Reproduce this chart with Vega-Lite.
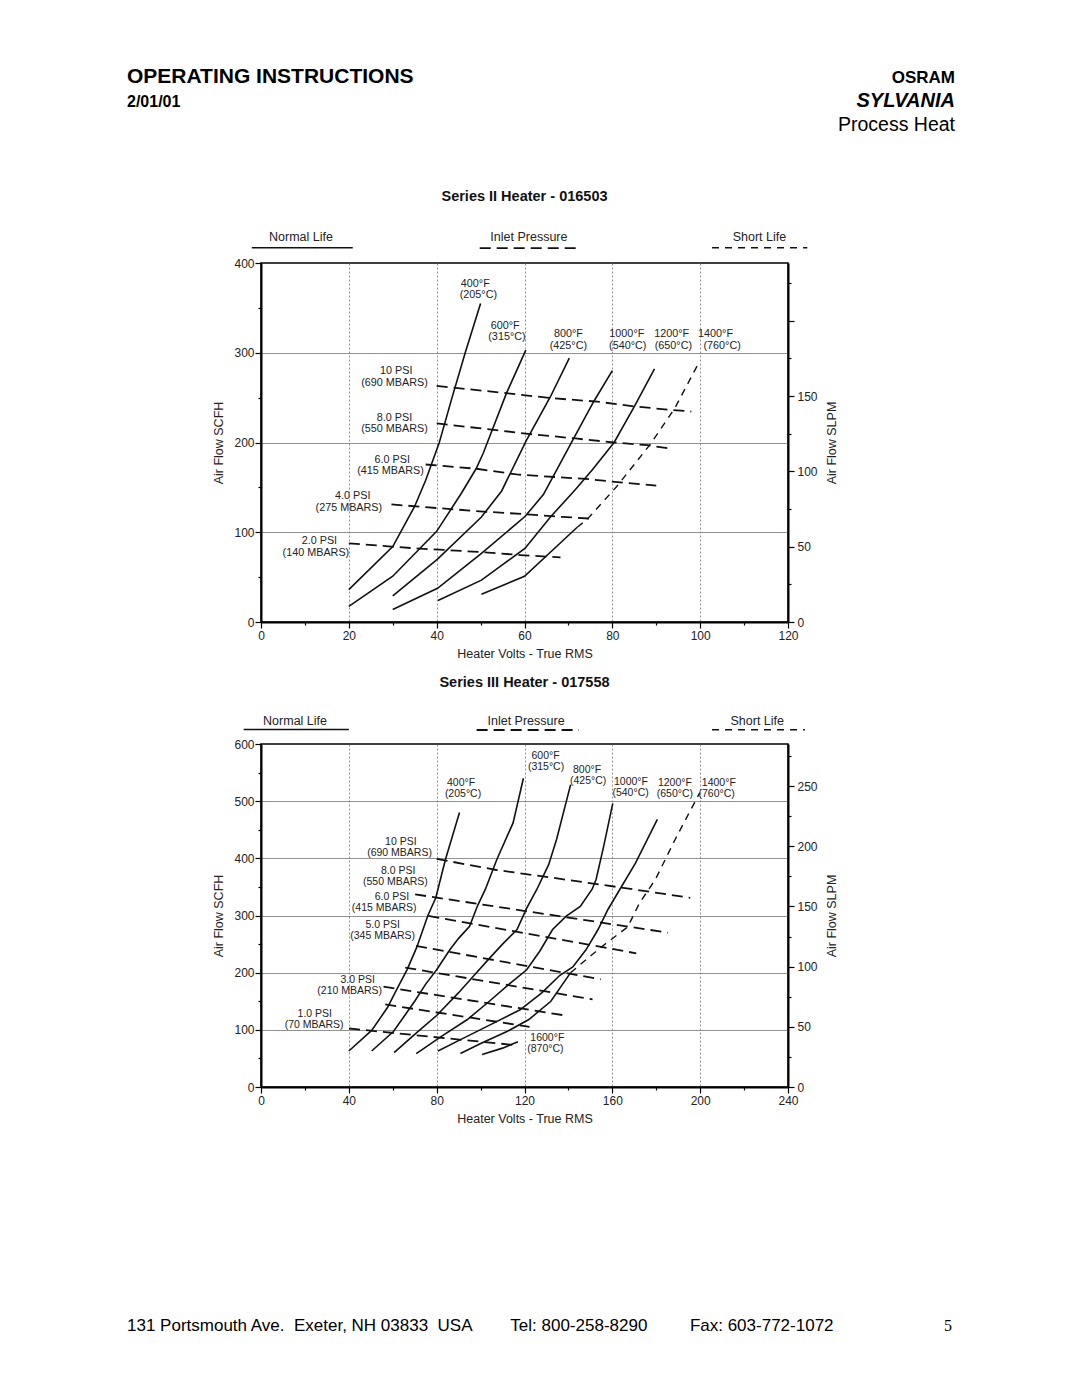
{
  "$schema": "https://vega.github.io/schema/vega-lite/v6.json",
  "padding": {"left": 127, "top": 60, "right": 5, "bottom": 5},
  "spacing": 122,
  "bounds": "flush",
  "config": {
    "font": "Liberation Sans",
    "view": {"stroke": "#000", "strokeWidth": 1.5},
    "axis": {
      "labelFont": "Liberation Sans", "labelFontSize": 12, "labelColor": "#222",
      "titleFont": "Liberation Sans", "titleFontSize": 12.5, "titleFontWeight": "normal", "titleColor": "#222",
      "domainColor": "#000", "domainWidth": 2, "tickColor": "#000", "tickWidth": 1.2,
      "gridColor": "#777", "gridWidth": 0.8
    },
    "title": {"font": "Liberation Sans", "fontSize": 14.5, "fontWeight": "bold", "color": "#111", "anchor": "middle"}
  },
  "datasets": {
    "header": [
      {"text": "OPERATING INSTRUCTIONS", "side": "left", "line": 1, "role": "doc"},
      {"text": "2/01/01", "side": "left", "line": 2, "role": "date"},
      {"text": "OSRAM", "side": "right", "line": 1, "role": "brand"},
      {"text": "SYLVANIA", "side": "right", "line": 2, "role": "brand2"},
      {"text": "Process Heat", "side": "right", "line": 3, "role": "division"}
    ],
    "footer": [
      {"text": "131 Portsmouth Ave.\u00a0\u00a0Exeter, NH 03833\u00a0\u00a0USA\u00a0\u00a0\u00a0\u00a0\u00a0\u00a0\u00a0\u00a0Tel: 800-258-8290\u00a0\u00a0\u00a0\u00a0\u00a0\u00a0\u00a0\u00a0\u00a0Fax: 603-772-1072", "side": "left", "line": 1, "role": "address"},
      {"text": "5", "side": "right", "line": 1, "role": "page"}
    ],
    "c1_lines": [
      {"series": "400F", "kind": "normal", "v": 20, "q": 36},
      {"series": "400F", "kind": "normal", "v": 30, "q": 84},
      {"series": "400F", "kind": "normal", "v": 35, "q": 129},
      {"series": "400F", "kind": "normal", "v": 37.5, "q": 158},
      {"series": "400F", "kind": "normal", "v": 40.6, "q": 200},
      {"series": "400F", "kind": "normal", "v": 43.5, "q": 250},
      {"series": "400F", "kind": "normal", "v": 46.5, "q": 300},
      {"series": "400F", "kind": "normal", "v": 50, "q": 355},
      {"series": "600F", "kind": "normal", "v": 20, "q": 17.5},
      {"series": "600F", "kind": "normal", "v": 30, "q": 51},
      {"series": "600F", "kind": "normal", "v": 40, "q": 101},
      {"series": "600F", "kind": "normal", "v": 45.7, "q": 144},
      {"series": "600F", "kind": "normal", "v": 49, "q": 171},
      {"series": "600F", "kind": "normal", "v": 50.6, "q": 188},
      {"series": "600F", "kind": "normal", "v": 55.9, "q": 255},
      {"series": "600F", "kind": "normal", "v": 60.3, "q": 303},
      {"series": "800F", "kind": "normal", "v": 30, "q": 29},
      {"series": "800F", "kind": "normal", "v": 40.2, "q": 70},
      {"series": "800F", "kind": "normal", "v": 50.2, "q": 117},
      {"series": "800F", "kind": "normal", "v": 54.8, "q": 146},
      {"series": "800F", "kind": "normal", "v": 60.4, "q": 202},
      {"series": "800F", "kind": "normal", "v": 65.9, "q": 251},
      {"series": "800F", "kind": "normal", "v": 70.2, "q": 294},
      {"series": "1000F", "kind": "normal", "v": 30, "q": 14},
      {"series": "1000F", "kind": "normal", "v": 40.2, "q": 37.5},
      {"series": "1000F", "kind": "normal", "v": 50.2, "q": 76.5},
      {"series": "1000F", "kind": "normal", "v": 60.1, "q": 117.5},
      {"series": "1000F", "kind": "normal", "v": 64.3, "q": 142},
      {"series": "1000F", "kind": "normal", "v": 71.2, "q": 204.5},
      {"series": "1000F", "kind": "normal", "v": 75.8, "q": 246},
      {"series": "1000F", "kind": "normal", "v": 80, "q": 280},
      {"series": "1200F", "kind": "normal", "v": 40.3, "q": 24},
      {"series": "1200F", "kind": "normal", "v": 50.2, "q": 46.6},
      {"series": "1200F", "kind": "normal", "v": 60.1, "q": 82},
      {"series": "1200F", "kind": "normal", "v": 66, "q": 117.5},
      {"series": "1200F", "kind": "normal", "v": 71.5, "q": 147},
      {"series": "1200F", "kind": "normal", "v": 75.5, "q": 170},
      {"series": "1200F", "kind": "normal", "v": 80.4, "q": 200},
      {"series": "1200F", "kind": "normal", "v": 85, "q": 240},
      {"series": "1200F", "kind": "normal", "v": 89.6, "q": 282},
      {"series": "1400F", "kind": "normal", "v": 50.2, "q": 31},
      {"series": "1400F", "kind": "normal", "v": 60, "q": 51},
      {"series": "1400F", "kind": "normal", "v": 72, "q": 105.6},
      {"series": "1400F short", "kind": "short", "v": 72, "q": 105.6},
      {"series": "1400F short", "kind": "short", "v": 74.2, "q": 114},
      {"series": "1400F short", "kind": "short", "v": 81, "q": 151},
      {"series": "1400F short", "kind": "short", "v": 88.8, "q": 199},
      {"series": "1400F short", "kind": "short", "v": 94.2, "q": 238},
      {"series": "1400F short", "kind": "short", "v": 99.5, "q": 287},
      {"series": "10 PSI", "kind": "pressure", "v": 40, "q": 263},
      {"series": "10 PSI", "kind": "pressure", "v": 55.9, "q": 255},
      {"series": "10 PSI", "kind": "pressure", "v": 65.9, "q": 249.5},
      {"series": "10 PSI", "kind": "pressure", "v": 76.6, "q": 245.5},
      {"series": "10 PSI", "kind": "pressure", "v": 85.4, "q": 240},
      {"series": "10 PSI", "kind": "pressure", "v": 93.4, "q": 236.3},
      {"series": "10 PSI", "kind": "pressure", "v": 98, "q": 234.5},
      {"series": "8 PSI", "kind": "pressure", "v": 40, "q": 221.3},
      {"series": "8 PSI", "kind": "pressure", "v": 51.3, "q": 215},
      {"series": "8 PSI", "kind": "pressure", "v": 61.3, "q": 209.4},
      {"series": "8 PSI", "kind": "pressure", "v": 71.6, "q": 204.5},
      {"series": "8 PSI", "kind": "pressure", "v": 80.4, "q": 200},
      {"series": "8 PSI", "kind": "pressure", "v": 88, "q": 197},
      {"series": "8 PSI", "kind": "pressure", "v": 93, "q": 193.3},
      {"series": "6 PSI", "kind": "pressure", "v": 37.5, "q": 175.5},
      {"series": "6 PSI", "kind": "pressure", "v": 49, "q": 170.8},
      {"series": "6 PSI", "kind": "pressure", "v": 58.2, "q": 164.4},
      {"series": "6 PSI", "kind": "pressure", "v": 67.4, "q": 161.4},
      {"series": "6 PSI", "kind": "pressure", "v": 73.9, "q": 159.5},
      {"series": "6 PSI", "kind": "pressure", "v": 81.2, "q": 155.8},
      {"series": "6 PSI", "kind": "pressure", "v": 90, "q": 152},
      {"series": "4 PSI", "kind": "pressure", "v": 29.7, "q": 131},
      {"series": "4 PSI", "kind": "pressure", "v": 42.6, "q": 126},
      {"series": "4 PSI", "kind": "pressure", "v": 50.6, "q": 123},
      {"series": "4 PSI", "kind": "pressure", "v": 60.5, "q": 120},
      {"series": "4 PSI", "kind": "pressure", "v": 67.4, "q": 117.5},
      {"series": "4 PSI", "kind": "pressure", "v": 75.8, "q": 115},
      {"series": "2 PSI", "kind": "pressure", "v": 20, "q": 87.7},
      {"series": "2 PSI", "kind": "pressure", "v": 29.7, "q": 84},
      {"series": "2 PSI", "kind": "pressure", "v": 36.2, "q": 81.7},
      {"series": "2 PSI", "kind": "pressure", "v": 42.2, "q": 80.2},
      {"series": "2 PSI", "kind": "pressure", "v": 51, "q": 77.6},
      {"series": "2 PSI", "kind": "pressure", "v": 59, "q": 74.6},
      {"series": "2 PSI", "kind": "pressure", "v": 68.2, "q": 72},
      {"series": "key normal", "kind": "normal", "v": -2.1, "q": 417},
      {"series": "key normal", "kind": "normal", "v": 20.9, "q": 417},
      {"series": "key pressure", "kind": "pressure", "v": 49.8, "q": 416.5},
      {"series": "key pressure", "kind": "pressure", "v": 72.9, "q": 416.5},
      {"series": "key short", "kind": "short", "v": 102.7, "q": 417},
      {"series": "key short", "kind": "short", "v": 124.4, "q": 417}
    ],
    "c1_labels": [
      {"label": "400°F", "v": 48.8, "q": 377},
      {"label": "(205°C)", "v": 49.5, "q": 364},
      {"label": "600°F", "v": 55.6, "q": 330},
      {"label": "(315°C)", "v": 56, "q": 317},
      {"label": "800°F", "v": 70, "q": 320.5},
      {"label": "(425°C)", "v": 70, "q": 307.5},
      {"label": "1000°F", "v": 83.3, "q": 320.5},
      {"label": "(540°C)", "v": 83.5, "q": 307.5},
      {"label": "1200°F", "v": 93.5, "q": 320.5},
      {"label": "(650°C)", "v": 93.9, "q": 307.5},
      {"label": "1400°F", "v": 103.5, "q": 320.5},
      {"label": "(760°C)", "v": 105, "q": 307.5},
      {"label": "10 PSI", "v": 30.8, "q": 279.4},
      {"label": "(690 MBARS)", "v": 30.4, "q": 266.3},
      {"label": "8.0 PSI", "v": 30.4, "q": 227.5},
      {"label": "(550 MBARS)", "v": 30.4, "q": 214.5},
      {"label": "6.0 PSI", "v": 29.9, "q": 181},
      {"label": "(415 MBARS)", "v": 29.5, "q": 168},
      {"label": "4.0 PSI", "v": 20.9, "q": 140.5},
      {"label": "(275 MBARS)", "v": 20, "q": 127.5},
      {"label": "2.0 PSI", "v": 13.3, "q": 90},
      {"label": "(140 MBARS)", "v": 12.5, "q": 77}
    ],
    "c1_key": [
      {"label": "Normal Life", "v": 9.1, "q": 424.5},
      {"label": "Inlet Pressure", "v": 61, "q": 424.5},
      {"label": "Short Life", "v": 113.5, "q": 424.5}
    ],
    "c2_lines": [
      {"series": "400F", "kind": "normal", "v": 40, "q": 63},
      {"series": "400F", "kind": "normal", "v": 50.4, "q": 99},
      {"series": "400F", "kind": "normal", "v": 57.6, "q": 139},
      {"series": "400F", "kind": "normal", "v": 62, "q": 172},
      {"series": "400F", "kind": "normal", "v": 66.5, "q": 205},
      {"series": "400F", "kind": "normal", "v": 71, "q": 245},
      {"series": "400F", "kind": "normal", "v": 76, "q": 300},
      {"series": "400F", "kind": "normal", "v": 79.6, "q": 331},
      {"series": "400F", "kind": "normal", "v": 84, "q": 398},
      {"series": "400F", "kind": "normal", "v": 90.4, "q": 480},
      {"series": "600F", "kind": "normal", "v": 50.4, "q": 63},
      {"series": "600F", "kind": "normal", "v": 60.3, "q": 97},
      {"series": "600F", "kind": "normal", "v": 66, "q": 128},
      {"series": "600F", "kind": "normal", "v": 70, "q": 150},
      {"series": "600F", "kind": "normal", "v": 75, "q": 180},
      {"series": "600F", "kind": "normal", "v": 80, "q": 205},
      {"series": "600F", "kind": "normal", "v": 86, "q": 240},
      {"series": "600F", "kind": "normal", "v": 90, "q": 260},
      {"series": "600F", "kind": "normal", "v": 95, "q": 281},
      {"series": "600F", "kind": "normal", "v": 98.6, "q": 317},
      {"series": "600F", "kind": "normal", "v": 102.2, "q": 346},
      {"series": "600F", "kind": "normal", "v": 107.4, "q": 398},
      {"series": "600F", "kind": "normal", "v": 114.8, "q": 462},
      {"series": "600F", "kind": "normal", "v": 119.5, "q": 540},
      {"series": "800F", "kind": "normal", "v": 60.6, "q": 60},
      {"series": "800F", "kind": "normal", "v": 70, "q": 92},
      {"series": "800F", "kind": "normal", "v": 80, "q": 125},
      {"series": "800F", "kind": "normal", "v": 90, "q": 165},
      {"series": "800F", "kind": "normal", "v": 97, "q": 195},
      {"series": "800F", "kind": "normal", "v": 104, "q": 225},
      {"series": "800F", "kind": "normal", "v": 110, "q": 250},
      {"series": "800F", "kind": "normal", "v": 116.6, "q": 275.5},
      {"series": "800F", "kind": "normal", "v": 121, "q": 313},
      {"series": "800F", "kind": "normal", "v": 125.6, "q": 345.5},
      {"series": "800F", "kind": "normal", "v": 131, "q": 389},
      {"series": "800F", "kind": "normal", "v": 134.6, "q": 433},
      {"series": "800F", "kind": "normal", "v": 141, "q": 529},
      {"series": "1000F", "kind": "normal", "v": 70.7, "q": 58.5},
      {"series": "1000F", "kind": "normal", "v": 82, "q": 88},
      {"series": "1000F", "kind": "normal", "v": 94, "q": 118},
      {"series": "1000F", "kind": "normal", "v": 104, "q": 150},
      {"series": "1000F", "kind": "normal", "v": 113, "q": 180},
      {"series": "1000F", "kind": "normal", "v": 121, "q": 205},
      {"series": "1000F", "kind": "normal", "v": 127, "q": 238},
      {"series": "1000F", "kind": "normal", "v": 132.8, "q": 275.5},
      {"series": "1000F", "kind": "normal", "v": 139, "q": 299},
      {"series": "1000F", "kind": "normal", "v": 145.4, "q": 316},
      {"series": "1000F", "kind": "normal", "v": 150.8, "q": 346},
      {"series": "1000F", "kind": "normal", "v": 152.6, "q": 363},
      {"series": "1000F", "kind": "normal", "v": 156, "q": 420},
      {"series": "1000F", "kind": "normal", "v": 160.2, "q": 496},
      {"series": "1200F", "kind": "normal", "v": 80.6, "q": 63},
      {"series": "1200F", "kind": "normal", "v": 92, "q": 85},
      {"series": "1200F", "kind": "normal", "v": 105, "q": 110},
      {"series": "1200F", "kind": "normal", "v": 118, "q": 135},
      {"series": "1200F", "kind": "normal", "v": 128, "q": 165},
      {"series": "1200F", "kind": "normal", "v": 136, "q": 195},
      {"series": "1200F", "kind": "normal", "v": 142, "q": 210},
      {"series": "1200F", "kind": "normal", "v": 148, "q": 240},
      {"series": "1200F", "kind": "normal", "v": 153.5, "q": 275.5},
      {"series": "1200F", "kind": "normal", "v": 158, "q": 310.5},
      {"series": "1200F", "kind": "normal", "v": 163.4, "q": 345.5},
      {"series": "1200F", "kind": "normal", "v": 170.6, "q": 392},
      {"series": "1200F", "kind": "normal", "v": 180.5, "q": 468},
      {"series": "1400F", "kind": "normal", "v": 90.8, "q": 58.5},
      {"series": "1400F", "kind": "normal", "v": 101, "q": 78},
      {"series": "1400F", "kind": "normal", "v": 112, "q": 97},
      {"series": "1400F", "kind": "normal", "v": 122, "q": 118},
      {"series": "1400F", "kind": "normal", "v": 132, "q": 150},
      {"series": "1400F", "kind": "normal", "v": 141, "q": 200},
      {"series": "1400F short", "kind": "short", "v": 141, "q": 200},
      {"series": "1400F short", "kind": "short", "v": 155, "q": 245},
      {"series": "1400F short", "kind": "short", "v": 167, "q": 280},
      {"series": "1400F short", "kind": "short", "v": 172.4, "q": 322},
      {"series": "1400F short", "kind": "short", "v": 179.6, "q": 363},
      {"series": "1400F short", "kind": "short", "v": 188.6, "q": 433},
      {"series": "1400F short", "kind": "short", "v": 199.8, "q": 514.6},
      {"series": "1600F", "kind": "normal", "v": 100.7, "q": 56.7},
      {"series": "1600F", "kind": "normal", "v": 110, "q": 68},
      {"series": "1600F", "kind": "normal", "v": 117, "q": 79},
      {"series": "10 PSI", "kind": "pressure", "v": 80, "q": 399},
      {"series": "10 PSI", "kind": "pressure", "v": 107.2, "q": 379.6},
      {"series": "10 PSI", "kind": "pressure", "v": 129.2, "q": 368},
      {"series": "10 PSI", "kind": "pressure", "v": 164.9, "q": 348.4},
      {"series": "10 PSI", "kind": "pressure", "v": 195.5, "q": 331},
      {"series": "8 PSI", "kind": "pressure", "v": 70.2, "q": 337},
      {"series": "8 PSI", "kind": "pressure", "v": 185.3, "q": 270},
      {"series": "6 PSI", "kind": "pressure", "v": 76.2, "q": 299.4},
      {"series": "6 PSI", "kind": "pressure", "v": 170.9, "q": 233.9},
      {"series": "5 PSI", "kind": "pressure", "v": 70.6, "q": 246.8},
      {"series": "5 PSI", "kind": "pressure", "v": 154.7, "q": 188.3},
      {"series": "4 PSI", "kind": "pressure", "v": 65.7, "q": 208.8},
      {"series": "4 PSI", "kind": "pressure", "v": 151, "q": 153.2},
      {"series": "3 PSI", "kind": "pressure", "v": 55.8, "q": 175.4},
      {"series": "3 PSI", "kind": "pressure", "v": 137.6, "q": 125.7},
      {"series": "2 PSI", "kind": "pressure", "v": 56.6, "q": 144.4},
      {"series": "2 PSI", "kind": "pressure", "v": 122.3, "q": 105.3},
      {"series": "1 PSI", "kind": "pressure", "v": 40.1, "q": 102.3},
      {"series": "1 PSI", "kind": "pressure", "v": 116, "q": 73.1},
      {"series": "key normal", "kind": "normal", "v": -7.9, "q": 625.3},
      {"series": "key normal", "kind": "normal", "v": 40, "q": 625.3},
      {"series": "key pressure", "kind": "pressure", "v": 98.2, "q": 624.5},
      {"series": "key pressure", "kind": "pressure", "v": 144.8, "q": 624.5},
      {"series": "key short", "kind": "short", "v": 205.4, "q": 625},
      {"series": "key short", "kind": "short", "v": 247.7, "q": 625}
    ],
    "c2_labels": [
      {"label": "400°F", "v": 91.1, "q": 531.7},
      {"label": "(205°C)", "v": 92, "q": 512.5},
      {"label": "600°F", "v": 129.6, "q": 579},
      {"label": "(315°C)", "v": 129.8, "q": 560},
      {"label": "800°F", "v": 148.5, "q": 554.5},
      {"label": "(425°C)", "v": 149, "q": 535.5},
      {"label": "1000°F", "v": 168.5, "q": 533},
      {"label": "(540°C)", "v": 168.3, "q": 514},
      {"label": "1200°F", "v": 188.5, "q": 532},
      {"label": "(650°C)", "v": 188.5, "q": 513},
      {"label": "1400°F", "v": 208.5, "q": 532},
      {"label": "(760°C)", "v": 207.5, "q": 513},
      {"label": "1600°F", "v": 130.4, "q": 85},
      {"label": "(870°C)", "v": 129.5, "q": 66},
      {"label": "10 PSI", "v": 63.7, "q": 429},
      {"label": "(690 MBARS)", "v": 63.1, "q": 409.6},
      {"label": "8.0 PSI", "v": 62.5, "q": 377.6},
      {"label": "(550 MBARS)", "v": 61.2, "q": 358.3},
      {"label": "6.0 PSI", "v": 59.6, "q": 332.7},
      {"label": "(415 MBARS)", "v": 56.1, "q": 313.4},
      {"label": "5.0 PSI", "v": 55.4, "q": 283},
      {"label": "(345 MBARS)", "v": 55.4, "q": 264.3},
      {"label": "3.0 PSI", "v": 44, "q": 187},
      {"label": "(210 MBARS)", "v": 40.4, "q": 168},
      {"label": "1.0 PSI", "v": 24.5, "q": 128},
      {"label": "(70 MBARS)", "v": 24.2, "q": 109}
    ],
    "c2_key": [
      {"label": "Normal Life", "v": 15.5, "q": 633},
      {"label": "Inlet Pressure", "v": 120.7, "q": 633},
      {"label": "Short Life", "v": 226, "q": 633}
    ]
  },
  "vconcat": [
    {
      "width": 527, "height": 81,
      "view": {"stroke": null},
      "data": {"name": "header"},
      "encoding": {
        "x": {"field": "side", "type": "nominal", "scale": {"type": "point", "domain": ["left", "right"], "range": [-134, 694], "padding": 0}, "axis": null},
        "y": {"field": "line", "type": "quantitative", "scale": {"domain": [1, 3], "range": [23, 71]}, "axis": null},
        "text": {"field": "text", "type": "nominal"}
      },
      "layer": [
        {"transform": [{"filter": "datum.role === 'doc'"}], "mark": {"type": "text", "align": "left", "baseline": "alphabetic", "fontSize": 21, "fontWeight": "bold", "color": "#000"}},
        {"transform": [{"filter": "datum.role === 'date'"}], "mark": {"type": "text", "align": "left", "baseline": "alphabetic", "fontSize": 16, "fontWeight": "bold", "color": "#000"}},
        {"transform": [{"filter": "datum.role === 'brand'"}], "mark": {"type": "text", "align": "right", "baseline": "alphabetic", "fontSize": 17, "fontWeight": "bold", "color": "#000"}},
        {"transform": [{"filter": "datum.role === 'brand2'"}], "mark": {"type": "text", "align": "right", "baseline": "alphabetic", "fontSize": 20, "fontWeight": "bold", "fontStyle": "italic", "color": "#000"}},
        {"transform": [{"filter": "datum.role === 'division'"}], "mark": {"type": "text", "align": "right", "baseline": "alphabetic", "fontSize": 19.5, "color": "#000"}}
      ]
    },
    {
      "width": 527, "height": 359,
      "title": {"text": "Series II Heater - 016503", "offset": 27},
      "resolve": {"scale": {"y": "independent"}},
      "layer": [
        {
          "encoding": {
            "x": {"field": "v", "type": "quantitative", "scale": {"domain": [0, 120], "nice": false, "zero": false},
              "axis": {"title": "Heater Volts - True RMS", "values": [0, 10, 20, 30, 40, 50, 60, 70, 80, 90, 100, 110, 120],
                "labelExpr": "datum.value % 20 === 0 ? datum.label : ''",
                "tickSize": {"condition": {"test": "datum.value % 20 === 0", "value": 6}, "value": 3},
                "grid": true, "gridDash": [2, 2],
                "gridOpacity": {"condition": {"test": "datum.value % 20 === 0 && datum.value > 0 && datum.value < 120", "value": 1}, "value": 0},
                "labelPadding": 2, "titlePadding": 6, "labelFlush": false, "labelOverlap": false}},
            "y": {"field": "q", "type": "quantitative", "scale": {"domain": [0, 400], "nice": false, "zero": false},
              "axis": {"title": "Air Flow SCFH", "values": [0, 50, 100, 150, 200, 250, 300, 350, 400],
                "labelExpr": "datum.value % 100 === 0 ? datum.label : ''",
                "tickSize": {"condition": {"test": "datum.value % 100 === 0", "value": 6}, "value": 3},
                "grid": true,
                "gridOpacity": {"condition": {"test": "datum.value % 100 === 0 && datum.value > 0 && datum.value < 400", "value": 1}, "value": 0},
                "labelPadding": 1, "titlePadding": 8, "labelFlush": false, "labelOverlap": false}}
          },
          "layer": [
            {"data": {"name": "c1_lines"}, "transform": [{"filter": "datum.kind === 'normal'"}], "mark": {"type": "line", "color": "#111", "strokeWidth": 1.6}, "encoding": {"detail": {"field": "series", "type": "nominal"}}},
            {"data": {"name": "c1_lines"}, "transform": [{"filter": "datum.kind === 'pressure'"}], "mark": {"type": "line", "color": "#111", "strokeWidth": 1.8, "strokeDash": [11, 6]}, "encoding": {"detail": {"field": "series", "type": "nominal"}}},
            {"data": {"name": "c1_lines"}, "transform": [{"filter": "datum.kind === 'short'"}], "mark": {"type": "line", "color": "#111", "strokeWidth": 1.4, "strokeDash": [7, 6]}, "encoding": {"detail": {"field": "series", "type": "nominal"}}},
            {"data": {"name": "c1_labels"}, "mark": {"type": "text", "fontSize": 10.8, "color": "#222", "baseline": "middle"}, "encoding": {"text": {"field": "label", "type": "nominal"}}},
            {"data": {"name": "c1_key"}, "mark": {"type": "text", "fontSize": 12.5, "color": "#222", "baseline": "alphabetic"}, "encoding": {"text": {"field": "label", "type": "nominal"}}}
          ]
        },
        {
          "data": {"values": [{"slpm": 0}, {"slpm": 238.4}]},
          "mark": {"type": "point", "opacity": 0},
          "encoding": {
            "y": {"field": "slpm", "type": "quantitative", "scale": {"domain": [0, 238.4], "nice": false, "zero": false},
              "axis": {"orient": "right", "title": "Air Flow SLPM", "titleAngle": 270, "values": [0, 25, 50, 75, 100, 125, 150, 175, 200, 225],
                "labelExpr": "datum.value % 50 === 0 && datum.value <= 150 ? datum.label : ''",
                "tickSize": {"condition": {"test": "datum.value % 50 === 0", "value": 6}, "value": 3},
                "grid": false, "labelPadding": 3, "titlePadding": 21, "labelFlush": false, "labelOverlap": false}}
          }
        }
      ]
    },
    {
      "width": 527, "height": 343,
      "title": {"text": "Series III Heater - 017558", "offset": 25},
      "resolve": {"scale": {"y": "independent"}},
      "layer": [
        {
          "encoding": {
            "x": {"field": "v", "type": "quantitative", "scale": {"domain": [0, 240], "nice": false, "zero": false},
              "axis": {"title": "Heater Volts - True RMS", "values": [0, 20, 40, 60, 80, 100, 120, 140, 160, 180, 200, 220, 240],
                "labelExpr": "datum.value % 40 === 0 ? datum.label : ''",
                "tickSize": {"condition": {"test": "datum.value % 40 === 0", "value": 6}, "value": 3},
                "grid": true, "gridDash": [2, 2],
                "gridOpacity": {"condition": {"test": "datum.value % 40 === 0 && datum.value > 0 && datum.value < 240", "value": 1}, "value": 0},
                "labelPadding": 2, "titlePadding": 6, "labelFlush": false, "labelOverlap": false}},
            "y": {"field": "q", "type": "quantitative", "scale": {"domain": [0, 600], "nice": false, "zero": false},
              "axis": {"title": "Air Flow SCFH", "values": [0, 50, 100, 150, 200, 250, 300, 350, 400, 450, 500, 550, 600],
                "labelExpr": "datum.value % 100 === 0 ? datum.label : ''",
                "tickSize": {"condition": {"test": "datum.value % 100 === 0", "value": 6}, "value": 3},
                "grid": true,
                "gridOpacity": {"condition": {"test": "datum.value % 100 === 0 && datum.value > 0 && datum.value < 600", "value": 1}, "value": 0},
                "labelPadding": 1, "titlePadding": 8, "labelFlush": false, "labelOverlap": false}}
          },
          "layer": [
            {"data": {"name": "c2_lines"}, "transform": [{"filter": "datum.kind === 'normal'"}], "mark": {"type": "line", "color": "#111", "strokeWidth": 1.6}, "encoding": {"detail": {"field": "series", "type": "nominal"}}},
            {"data": {"name": "c2_lines"}, "transform": [{"filter": "datum.kind === 'pressure'"}], "mark": {"type": "line", "color": "#111", "strokeWidth": 1.8, "strokeDash": [11, 6]}, "encoding": {"detail": {"field": "series", "type": "nominal"}}},
            {"data": {"name": "c2_lines"}, "transform": [{"filter": "datum.kind === 'short'"}], "mark": {"type": "line", "color": "#111", "strokeWidth": 1.4, "strokeDash": [7, 6]}, "encoding": {"detail": {"field": "series", "type": "nominal"}}},
            {"data": {"name": "c2_labels"}, "mark": {"type": "text", "fontSize": 10.5, "color": "#222", "baseline": "middle"}, "encoding": {"text": {"field": "label", "type": "nominal"}}},
            {"data": {"name": "c2_key"}, "mark": {"type": "text", "fontSize": 12.5, "color": "#222", "baseline": "alphabetic"}, "encoding": {"text": {"field": "label", "type": "nominal"}}}
          ]
        },
        {
          "data": {"values": [{"slpm": 0}, {"slpm": 284.9}]},
          "mark": {"type": "point", "opacity": 0},
          "encoding": {
            "y": {"field": "slpm", "type": "quantitative", "scale": {"domain": [0, 284.9], "nice": false, "zero": false},
              "axis": {"orient": "right", "title": "Air Flow SLPM", "titleAngle": 270, "values": [0, 25, 50, 75, 100, 125, 150, 175, 200, 225, 250, 275],
                "labelExpr": "datum.value % 50 === 0 ? datum.label : ''",
                "tickSize": {"condition": {"test": "datum.value % 50 === 0", "value": 6}, "value": 3},
                "grid": false, "labelPadding": 3, "titlePadding": 21, "labelFlush": false, "labelOverlap": false}}
          }
        }
      ]
    },
    {
      "width": 527, "height": 130,
      "view": {"stroke": null},
      "data": {"name": "footer"},
      "encoding": {
        "x": {"field": "side", "type": "nominal", "scale": {"type": "point", "domain": ["left", "right"], "range": [-134, 691], "padding": 0}, "axis": null},
        "y": {"field": "line", "type": "quantitative", "scale": {"domain": [0, 1], "range": [0, 122]}, "axis": null},
        "text": {"field": "text", "type": "nominal"}
      },
      "layer": [
        {"transform": [{"filter": "datum.role === 'address'"}], "mark": {"type": "text", "align": "left", "baseline": "alphabetic", "fontSize": 17, "color": "#000"}},
        {"transform": [{"filter": "datum.role === 'page'"}], "mark": {"type": "text", "align": "right", "baseline": "alphabetic", "fontSize": 16, "font": "Liberation Serif", "color": "#000"}}
      ]
    }
  ]
}
